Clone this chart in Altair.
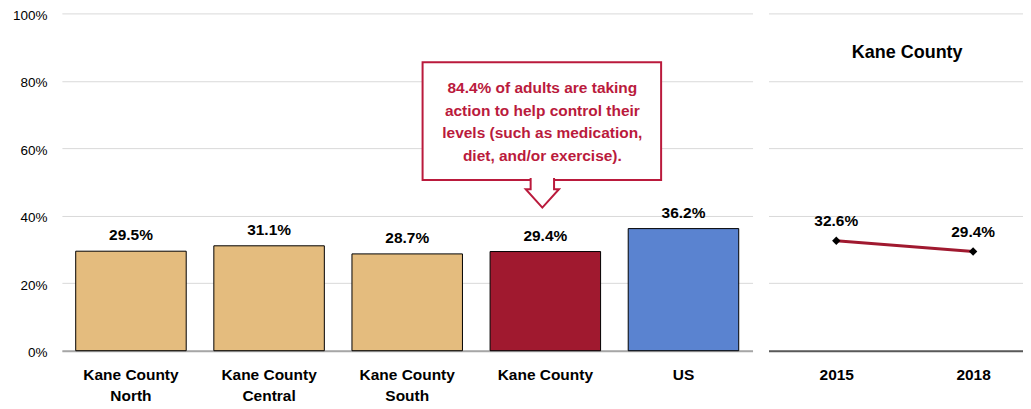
import altair as alt
import pandas as pd

# ---- data ----
categories = ["Kane County North", "Kane County Central", "Kane County South", "Kane County", "US"]
values = [0.295, 0.311, 0.287, 0.294, 0.362]
bar_colors = ["#E4BC7E", "#E4BC7E", "#E4BC7E", "#A0192F", "#5A83D0"]

years = ["2015", "2018"]
trend_values = [0.326, 0.294]
panel_title = "Kane County"

callout_text = "84.4% of adults are taking\naction to help control their\nlevels (such as medication,\ndiet, and/or exercise)."
callout_target = "Kane County"
callout_top, callout_bottom, callout_first_line, arrow_mid = 0.855, 0.506, 0.778, 0.4675

y_ticks = [0, 0.2, 0.4, 0.6, 0.8, 1.0]

# ---- style ----
FONT = "Liberation Sans, Arial, Helvetica, sans-serif"
CRIMSON = "#A0192F"
CALLOUT = "#BA1A3C"
GRID = "#D9D9D9"

bars_df = pd.DataFrame({"category": categories, "value": values})
trend_df = pd.DataFrame({"year": years, "value": trend_values})

x_left = alt.X(
    "category:N",
    scale=alt.Scale(domain=categories, paddingInner=0.2, paddingOuter=0.1),
    axis=alt.Axis(
        title=None, labelAngle=0, ticks=False,
        labelFont=FONT, labelFontSize=15.5, labelFontWeight="bold", labelColor="black",
        labelPadding=17, labelLineHeight=21,
        labelExpr="indexof(datum.value, 'Kane County ') == 0 ? ['Kane County', substring(datum.value, 12)] : datum.value",
        domainColor="#A6A6A6", domainWidth=2, grid=False,
    ),
)
y_left = alt.Y(
    "value:Q",
    scale=alt.Scale(domain=[0, 1]),
    axis=alt.Axis(
        title=None, values=y_ticks, format=".0%", ticks=False, domain=False,
        labelFont=FONT, labelFontSize=13.5, labelColor="black", labelPadding=15,
        labelOffset=2, gridColor=GRID, gridWidth=1,
    ),
)

base = alt.Chart(bars_df).encode(x=x_left, y=y_left)
bars = base.mark_bar(stroke="black", strokeWidth=1).encode(
    color=alt.Color("category:N", scale=alt.Scale(domain=categories, range=bar_colors), legend=None)
)
bar_labels = base.mark_text(
    baseline="middle", dy=-16, font=FONT, fontSize=15.5, fontWeight="bold", color="black"
).encode(text=alt.Text("value:Q", format=".1%"))

callout_df = pd.DataFrame({"t": [callout_text]})
box = alt.Chart(callout_df).mark_rect(
    fill="white", stroke=CALLOUT, strokeWidth=2, xOffset=-123, x2Offset=116
).encode(
    x=alt.XDatum(callout_target, bandPosition=0.5),
    x2=alt.X2Datum(callout_target, bandPosition=0.5),
    y=alt.YDatum(callout_top),
    y2=alt.Y2Datum(callout_bottom),
)
arrow_path = "M -0.69 -0.88 L -0.69 -0.22 L -0.98 -0.22 L 0 0.86 L 0.98 -0.22 L 0.69 -0.22 L 0.69 -0.88"
arrow = alt.Chart(callout_df).mark_point(
    shape=arrow_path, size=1156, fill="white", stroke=CALLOUT, strokeWidth=2,
    opacity=1, fillOpacity=1, filled=False, xOffset=-3,
).encode(
    x=alt.XDatum(callout_target, bandPosition=0.5),
    y=alt.YDatum(arrow_mid),
)
callout_label = alt.Chart(callout_df).mark_text(
    lineBreak="\n", lineHeight=22.5, font=FONT, fontSize=15.5, fontWeight="bold",
    color=CALLOUT, align="center", baseline="middle", xOffset=-3,
).encode(
    x=alt.XDatum(callout_target, bandPosition=0.5),
    y=alt.YDatum(callout_first_line),
    text="t:N",
)

left = alt.layer(bars, bar_labels, box, arrow, callout_label).properties(width=692, height=338)

# ---- right panel ----
x_right = alt.X(
    "year:O",
    scale=alt.Scale(type="point", domain=years, padding=0.43, align=0.576),
    axis=alt.Axis(
        title=None, labelAngle=0, ticks=False,
        labelFont=FONT, labelFontSize=15.5, labelFontWeight="bold", labelColor="black",
        labelPadding=17, domainColor="#595959", domainWidth=2, grid=False,
    ),
)
y_right = alt.Y(
    "value:Q",
    scale=alt.Scale(domain=[0, 1]),
    axis=alt.Axis(
        title=None, values=y_ticks, labels=False, ticks=False, domain=False,
        gridColor=GRID, gridWidth=1,
    ),
)
rbase = alt.Chart(trend_df).encode(x=x_right, y=y_right)
line = rbase.mark_line(color=CRIMSON, strokeWidth=3)
pts = rbase.mark_point(shape="diamond", filled=True, color="black", size=70, opacity=1)
rlabels = rbase.mark_text(
    baseline="middle", dy=-20, font=FONT, fontSize=15.5, fontWeight="bold", color="black"
).encode(text=alt.Text("value:Q", format=".1%"))
rtitle = alt.Chart(pd.DataFrame({"t": [panel_title]})).mark_text(
    font=FONT, fontSize=18, fontWeight="bold", color="black", align="center", baseline="middle"
).encode(x=alt.value(139), y=alt.YDatum(0.882), text="t:N")

right = alt.layer(line, pts, rlabels, rtitle).properties(width=255, height=338)

chart = alt.hconcat(left, right, spacing=16).properties(
    padding={"left": 4, "top": 0, "right": 0, "bottom": 0}
).configure_view(stroke=None)

chart.save("out.html", embed_options={"renderer": "svg", "actions": False})
